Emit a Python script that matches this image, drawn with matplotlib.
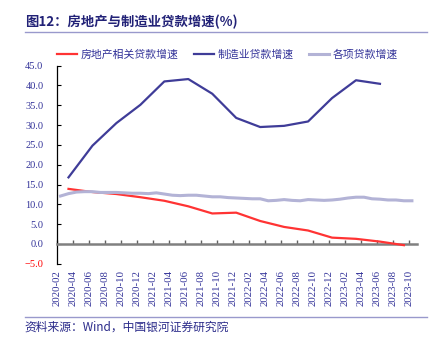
import numpy as np
import pandas as pd
import matplotlib
matplotlib.use('Agg')
import matplotlib.pyplot as plt
from matplotlib.lines import Line2D

plt.rcParams['font.family'] = ['Noto Sans CJK SC', 'DejaVu Sans']

# months counted from 2020-02
months = pd.date_range('2020-02', '2023-10', freq='MS').strftime('%Y-%m').tolist()
tick_labels = months[::2]

# quarterly series (2020-03 ...)
re_months = ['2020-03', '2020-06', '2020-09', '2020-12', '2021-03', '2021-06', '2021-09', '2021-12',
             '2022-03', '2022-06', '2022-09', '2022-12', '2023-03', '2023-06', '2023-09']
real_estate = [13.9, 13.1, 12.6, 11.8, 10.9, 9.5, 7.7, 7.9, 5.8, 4.3, 3.4, 1.6, 1.3, 0.6, -0.3]

mf_months = re_months[:14]
manufacturing = [16.8, 24.8, 30.5, 35.1, 41.0, 41.6, 37.9, 31.8, 29.5, 29.8, 30.9, 36.8, 41.3, 40.4]

# monthly series 2020-02 .. 2023-10
all_loans = [12.1, 12.7, 13.1, 13.2, 13.2, 13.0, 13.0, 13.0, 12.9, 12.8, 12.8,
             12.7, 12.9, 12.6, 12.3, 12.2, 12.3, 12.3, 12.1, 11.9, 11.9, 11.7, 11.6,
             11.5, 11.4, 11.4, 10.9, 11.0, 11.2, 11.0, 10.9, 11.2, 11.1, 11.0, 11.1,
             11.3, 11.6, 11.8, 11.8, 11.4, 11.3, 11.1, 11.1, 10.9, 10.9]

navy = '#333399'
shift = 0.4  # points sit a bit after the month tick

def pos(ms):
    return np.array([months.index(m) for m in ms]) + shift

fig = plt.figure(figsize=(4.45, 3.49), dpi=100)
ax = fig.add_axes([0.1288, 0.2441, 0.8076, 0.568])

ax.plot(pos(re_months), real_estate, color='#FF3333', lw=1.6, label='房地产相关贷款增速', zorder=3)
ax.plot(pos(mf_months), manufacturing, color='#3F3C98', lw=1.6, label='制造业贷款增速', zorder=3)
ax.plot(np.arange(len(all_loans)) + shift, all_loans, color='#B3B3D6', lw=2.2, label='各项贷款增速', zorder=3)

ax.set_xlim(0, 45)
ax.set_ylim(-5, 45)

yt = np.arange(-5, 46, 5)
ax.set_yticks(yt, labels=[('%.1f' % v).replace('-', '\u2212') for v in yt],
              fontfamily='Liberation Serif', fontsize=7.5)
ax.tick_params(axis='y', direction='in', length=3, pad=10, labelcolor=navy, width=0.8)
ax.get_yticklabels()[0].set_color('red')

ax.spines['top'].set_visible(False)
ax.spines['right'].set_visible(False)
ax.spines['left'].set_color('black')
ax.spines['left'].set_linewidth(0.9)
ax.spines['bottom'].set_position(('data', 0))
ax.spines['bottom'].set_color('#808080')
ax.spines['bottom'].set_linewidth(1.8)

xt = np.arange(0, len(months), 2)
ax.set_xticks(xt)
ax.tick_params(axis='x', direction='in', length=3, width=1, color='#606060', labelbottom=False)

sec = ax.secondary_xaxis('bottom')
sec.set_xticks(xt, labels=tick_labels, fontfamily='Liberation Serif', fontsize=7.8, rotation=90)
sec.tick_params(length=0, pad=4.5, labelcolor=navy)
sec.spines['bottom'].set_visible(False)

fig.legend(loc='center', bbox_to_anchor=(0.511, 0.8444), ncol=3, frameon=False,
           fontsize=7.8, handlelength=1.9, handletextpad=0.3, columnspacing=1.4,
           labelcolor=navy)

fig.text(0.056, 0.938, '图12：房地产与制造业贷款增速(%)', fontsize=9.6, fontweight='bold',
         color='#222277', va='center', ha='left')
fig.add_artist(Line2D([25 / 445, 427 / 445], [1 - 32.3 / 349] * 2, color='#9999CC', lw=1))
fig.add_artist(Line2D([25 / 445, 427 / 445], [1 - 317.3 / 349] * 2, color='#9999CC', lw=1))
fig.text(0.056, 0.064, '资料来源：Wind，中国银河证券研究院', fontsize=8.5, color='#2B2B8A',
         va='center', ha='left', style='italic')

fig.savefig('out.png', dpi=100)
